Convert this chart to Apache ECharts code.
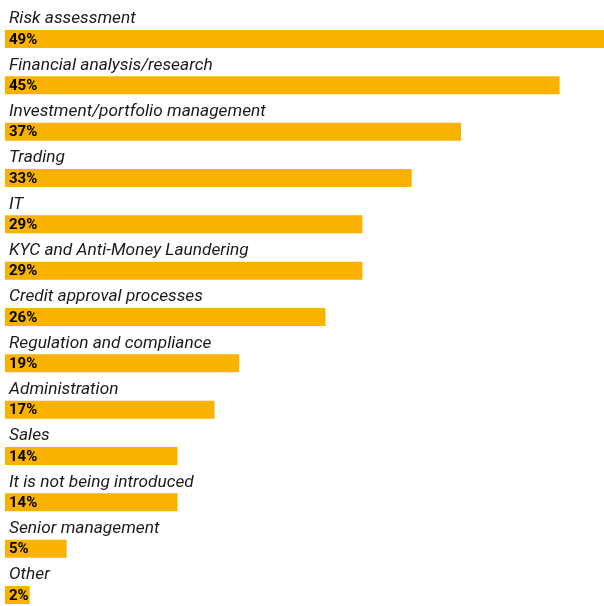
<!DOCTYPE html>
<html>
<head>
<meta charset="utf-8">
<script src="https://cdn.jsdelivr.net/npm/echarts@6/dist/echarts.min.js"></script>
<style>html,body{margin:0;padding:0;background:#fff}#c{width:604px;height:606px}</style>
</head>
<body>
<div id="c"></div>
<script>
const categories = ["Risk assessment","Financial analysis/research","Investment/portfolio management","Trading","IT","KYC and Anti-Money Laundering","Credit approval processes","Regulation and compliance","Administration","Sales","It is not being introduced","Senior management","Other"];
const values = [49,45,37,33,29,29,26,19,17,14,14,5,2];

const chart = echarts.init(document.getElementById('c'));
chart.setOption({
  animation: false,
  grid: {left: 5, right: 0, top: 39, bottom: 11, containLabel: false},
  xAxis: {type: 'value', min: 0, max: 48.6, show: false},
  yAxis: {
    type: 'category', data: categories, inverse: true, boundaryGap: false,
    axisLine: {show: false}, axisTick: {show: false}, splitLine: {show: false},
    axisLabel: {show: false}
  },
  series: [{
    type: 'bar', data: values, barWidth: 18, clip: false,
    itemStyle: {color: '#F9B200'},
    label: {
      show: true, position: 'insideLeft', distance: 4,
      formatter: '{c}%', fontFamily: 'Roboto', fontWeight: 'bold', fontSize: 15, color: '#000',
      offset: [0, 1]
    }
  }, {
    type: 'bar', data: values, barWidth: 18, barGap: '-100%', clip: false,
    itemStyle: {color: 'rgba(0,0,0,0)'},
    silent: true, z: 3,
    label: {
      show: true, position: [4, -11], verticalAlign: 'middle', align: 'left',
      formatter: (p) => categories[p.dataIndex],
      fontFamily: 'Roboto', fontStyle: 'italic', fontSize: 17.3, color: '#1a1a1a'
    }
  }]
});
</script>
</body>
</html>
